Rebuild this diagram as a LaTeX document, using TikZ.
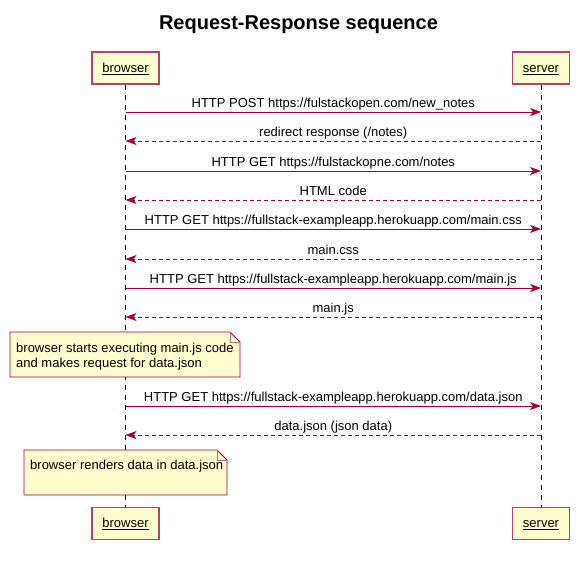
\documentclass[tikz,border=0pt]{standalone}
\usepackage{fontspec}
\setmainfont{Liberation Sans}
\usetikzlibrary{arrows.meta,positioning}
\definecolor{umlred}{HTML}{A80036}
\definecolor{umlfill}{HTML}{FEFECE}
\tikzset{
  participant/.style={draw=umlred!75, fill=umlfill, line width=1.3pt, minimum height=32pt,
    inner xsep=10.5pt, text height=9.5pt, text depth=1pt, font=\fontsize{13}{15}\selectfont},
  lifeline/.style={black, line width=0.8pt, dash pattern=on 5pt off 5pt},
  msg/.style={umlred, line width=0.8pt, -{Stealth[length=11pt,width=8pt,inset=3pt]}},
  reply/.style={msg, dash pattern=on 4pt off 3pt},
  msglabel/.style={black, font=\fontsize{13}{15}\selectfont, inner sep=0pt, anchor=base, yshift=4.5pt},
  notebox/.style={draw=umlred, fill=umlfill, line width=0.8pt},
  notetext/.style={font=\fontsize{13}{15.5}\selectfont, align=left, inner sep=0pt, anchor=north west}
}
% note with folded corner: x1, y1, x2, y2
\newcommand{\umlnote}[4]{
  \draw[notebox] (#1,#2) -- (#3-10,#2) -- (#3,#2+10) -- (#3,#4) -- (#1,#4) -- cycle;
  \draw[notebox, draw=umlred!60, fill=none] (#3-10,#2) -- (#3-10,#2+10) -- (#3,#2+10);
}

\begin{document}
\begin{tikzpicture}[x=1pt, y=-1pt]
  \useasboundingbox (0,0) rectangle (584,563);

  \node[font=\bfseries\fontsize{20}{22}\selectfont, inner sep=0pt, anchor=base] (title) at (298.5,29) {Request-Response sequence};

  % participants
  \node[participant] (browser) at (125.5,68) {\underline{browser}};
  \node[participant] (server) at (541,68) {\underline{server}};
  \node[participant] (browserB) at (125.5,523.5) {\underline{browser}};
  \node[participant] (serverB) at (541,523.5) {\underline{server}};

  \draw[lifeline] (browser) -- (browserB);
  \draw[lifeline] (server) -- (serverB);

  % notes (drawn over the lifeline)
  \umlnote{10}{332}{240}{377}
  \node[notetext] (note1) at (16,342.5) {browser starts executing main.js code\\and makes request for data.json};
  \umlnote{24}{450}{227}{495}
  \node[notetext] (note2) at (30,459.5) {browser renders data in data.json};

  \foreach \i/\y in {1/112,2/141,3/171,4/200,5/229,6/259,7/288,8/317,9/406,10/435} {
    \coordinate (b\i) at (browser |- 0,\y);
    \coordinate (s\i) at (server |- 0,\y);
  }

  % messages
  \draw[msg] (b1) -- node[msglabel] (m1) {HTTP POST https://fulstackopen.com/new\_notes} (s1);
  \draw[reply] (s2) -- node[msglabel] (m2) {redirect response (/notes)} (b2);
  \draw[msg] (b3) -- node[msglabel] (m3) {HTTP GET https://fulstackopne.com/notes} (s3);
  \draw[reply] (s4) -- node[msglabel] (m4) {HTML code} (b4);
  \draw[msg] (b5) -- node[msglabel] (m5) {HTTP GET https://fullstack-exampleapp.herokuapp.com/main.css} (s5);
  \draw[reply] (s6) -- node[msglabel] (m6) {main.css} (b6);
  \draw[msg] (b7) -- node[msglabel] (m7) {HTTP GET https://fullstack-exampleapp.herokuapp.com/main.js} (s7);
  \draw[reply] (s8) -- node[msglabel] (m8) {main.js} (b8);
  \draw[msg] (b9) -- node[msglabel] (m9) {HTTP GET https://fullstack-exampleapp.herokuapp.com/data.json} (s9);
  \draw[reply] (s10) -- node[msglabel] (m10) {data.json (json data)} (b10);
\end{tikzpicture}
\end{document}
